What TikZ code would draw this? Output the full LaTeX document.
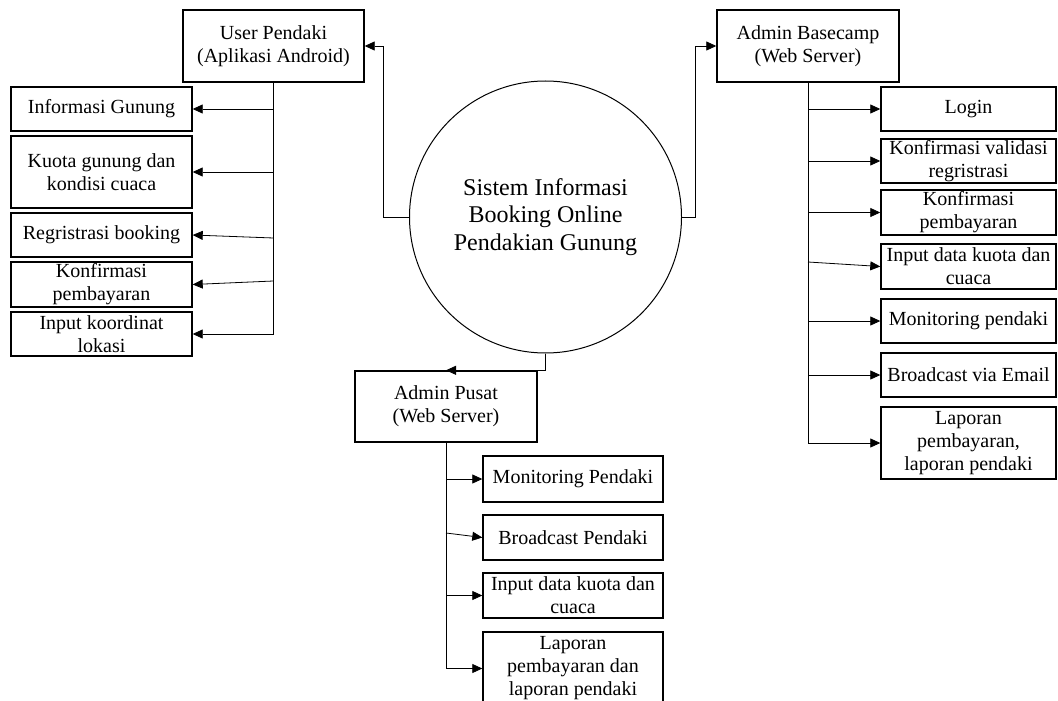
\documentclass[tikz,border=0pt]{standalone}
\usepackage{fontspec}
\setmainfont{Liberation Serif}
\usetikzlibrary{calc,arrows.meta}

\begin{document}
\begin{tikzpicture}[x=1pt,y=-1pt,font=\fontsize{20}{23}\selectfont]
    \tikzstyle{actor box}=[rectangle,draw,line width=1.4pt,align=center,inner sep=2pt,minimum width=182pt,minimum height=72pt]
    \tikzstyle{menu box}=[rectangle,draw,line width=1.4pt,align=center,inner sep=1pt,minimum height=44pt]
    \tikzstyle{process node}=[circle,draw,line width=1pt,align=center,minimum size=272pt,font=\fontsize{24}{27.5}\selectfont]
    \tikzstyle{trunk}=[line width=0.8pt]
    \tikzstyle{flow}=[line width=0.8pt,-{Triangle[length=10pt,width=9pt]}]
    \useasboundingbox (0,0) rectangle (1058,701);

    % pusat sistem
    \node(sys)[process node] at (545.5,217) {Sistem Informasi\\Booking Online\\Pendakian Gunung};

    % pengguna
    \node(user)[actor box,minimum width=181pt] at (273.5,46) {User Pendaki\\(Aplikasi Android)};
    \node(base)[actor box] at (808,46) {Admin Basecamp\\(Web Server)};
    \node(pusat)[actor box,minimum height=71pt] at (446,406.5) {Admin Pusat\\(Web Server)};

    \draw[flow] (sys.west) -- ++(-26,0) |- (user.east);
    \draw[flow] (sys.east) -- ++(13,0) |- (base.west);
    \draw[flow] (sys.south) |- (pusat.north);

    % menu user pendaki
    \node(info)[menu box,minimum width=181pt] at (101.5,109) {Informasi Gunung};
    \node(kuota)[menu box,minimum width=181pt,minimum height=72pt] at (101.5,172) {Kuota gunung dan\\kondisi cuaca};
    \node(regis)[menu box,minimum width=181pt] at (101.5,235) {Regristrasi booking};
    \node(konf)[menu box,minimum width=181pt,minimum height=45pt] at (101.5,284.5) {Konfirmasi\\pembayaran};
    \node(koord)[menu box,minimum width=181pt] at (101.5,334) {Input koordinat\\lokasi};

    \draw[trunk] (user.south) -- (user.south |- koord.east);
    \draw[flow] (user.south |- info.east) -- (info.east);
    \draw[flow] (user.south |- kuota.east) -- (kuota.east);
    \draw[flow] ($(user.south |- regis.east)+(0,3)$) -- (regis.east);
    \draw[flow] ($(user.south |- konf.east)+(0,-3.5)$) -- (konf.east);
    \draw[flow] (user.south |- koord.east) -- (koord.east);

    % menu admin basecamp
    \node(login)[menu box,minimum width=175pt] at (968.5,109) {Login};
    \node(valid)[menu box,minimum width=175pt] at (968.5,161) {Konfirmasi validasi\\regristrasi};
    \node(bayar)[menu box,minimum width=175pt,minimum height=45pt] at (968.5,212.5) {Konfirmasi\\pembayaran};
    \node(cuaca)[menu box,minimum width=175pt,minimum height=45pt] at (968.5,266.5) {Input data kuota dan\\cuaca};
    \node(monit)[menu box,minimum width=175pt] at (968.5,321) {Monitoring pendaki};
    \node(email)[menu box,minimum width=175pt] at (968.5,375) {Broadcast via Email};
    \node(lapor)[menu box,minimum width=175pt,minimum height=72pt] at (968.5,443) {Laporan\\pembayaran,\\laporan pendaki};

    \draw[trunk] (base.south) -- (base.south |- lapor.west);
    \draw[flow] (base.south |- login.west) -- (login.west);
    \draw[flow] (base.south |- valid.west) -- (valid.west);
    \draw[flow] (base.south |- bayar.west) -- (bayar.west);
    \draw[flow] ($(base.south |- cuaca.west)+(0,-4.5)$) -- (cuaca.west);
    \draw[flow] (base.south |- monit.west) -- (monit.west);
    \draw[flow] (base.south |- email.west) -- (email.west);
    \draw[flow] (base.south |- lapor.west) -- (lapor.west);

    % menu admin pusat
    \node(monp)[menu box,minimum width=180pt,minimum height=46pt] at (573,479) {Monitoring Pendaki};
    \node(brop)[menu box,minimum width=180pt,minimum height=45pt] at (573,537.5) {Broadcast Pendaki};
    \node(inp)[menu box,minimum width=180pt,minimum height=45pt] at (573,595.5) {Input data kuota dan\\cuaca};
    \node(lapp)[menu box,minimum width=180pt,minimum height=73pt] at (573,668.5) {Laporan\\pembayaran dan\\laporan pendaki};

    \draw[trunk] (pusat.south) -- (pusat.south |- lapp.west);
    \draw[flow] (pusat.south |- monp.west) -- (monp.west);
    \draw[flow] ($(pusat.south |- brop.west)+(0,-4.5)$) -- (brop.west);
    \draw[flow] (pusat.south |- inp.west) -- (inp.west);
    \draw[flow] (pusat.south |- lapp.west) -- (lapp.west);
\end{tikzpicture}
\end{document}
